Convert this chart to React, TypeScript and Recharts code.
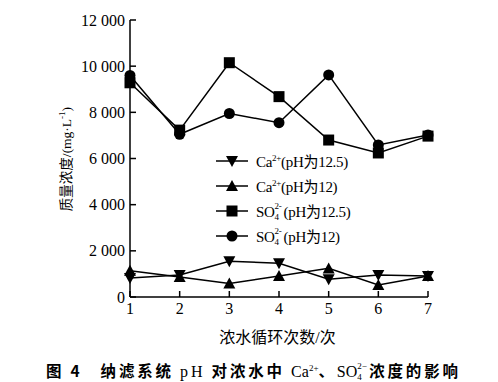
import React from 'react';
import { LineChart, Line, XAxis, YAxis } from 'recharts';

const cycles = [1, 2, 3, 4, 5, 6, 7];
const caPH125 = [820, 950, 1550, 1460, 770, 950, 910];
const caPH12 = [1140, 870, 590, 910, 1240, 520, 910];
const so4PH125 = [9280, 7230, 10150, 8680, 6800, 6240, 6970];
const so4PH12 = [9600, 7050, 7950, 7550, 9620, 6590, 7020];
const yTicks = [0, 2000, 4000, 6000, 8000, 10000, 12000];
const yTickLabels = ['0', '2 000', '4 000', '6 000', '8 000', '10 000', '12 000'];

const data = cycles.map((c, i) => ({
  cycle: c,
  caPH125: caPH125[i],
  caPH12: caPH12[i],
  so4PH125: so4PH125[i],
  so4PH12: so4PH12[i],
}));

const SERIF = '"Liberation Serif", "Times New Roman", "Noto Sans CJK SC", serif';
const CJK = '"Liberation Serif", "Noto Sans CJK SC", serif';

type Shape = 'down' | 'up' | 'square' | 'circle';

const Marker = ({ cx, cy, shape }: { cx: number; cy: number; shape: Shape }) => {
  if (cx == null || cy == null) return null;
  if (shape === 'circle') return <circle cx={cx} cy={cy} r={5.5} fill="#000" />;
  if (shape === 'square') return <rect x={cx - 5.5} y={cy - 5.5} width={11} height={11} fill="#000" />;
  if (shape === 'down')
    return <polygon points={`${cx - 6},${cy - 5} ${cx + 6},${cy - 5} ${cx},${cy + 6}`} fill="#000" />;
  return <polygon points={`${cx - 6},${cy + 5} ${cx + 6},${cy + 5} ${cx},${cy - 6}`} fill="#000" />;
};

const makeDot = (shape: Shape) => (props: any) => (
  <Marker key={`${shape}-${props.index}`} cx={props.cx} cy={props.cy} shape={shape} />
);

const XTick = (props: any) => {
  const { x, y, payload } = props;
  return (
    <g>
      <line x1={x} x2={x} y1={y} y2={y - 6} stroke="#000" strokeWidth={1.5} />
      <text x={x} y={y + 17} textAnchor="middle" fontFamily={SERIF} fontSize={16} fill="#000">
        {payload.value}
      </text>
    </g>
  );
};

const YTick = (props: any) => {
  const { x, y, payload } = props;
  const idx = yTicks.indexOf(payload.value);
  return (
    <g>
      <line x1={x} x2={x + 6} y1={y} y2={y} stroke="#000" strokeWidth={1.5} />
      <text x={x - 5} y={y + 5.5} textAnchor="end" fontFamily={SERIF} fontSize={16} fill="#000">
        {yTickLabels[idx]}
      </text>
    </g>
  );
};

const LegendIcon = ({ shape }: { shape: Shape }) => (
  <svg width={32} height={14} style={{ display: 'block' }}>
    <line x1={0} x2={32} y1={7} y2={7} stroke="#000" strokeWidth={1.5} />
    <Marker cx={16} cy={7} shape={shape} />
  </svg>
);

const small: React.CSSProperties = { fontSize: 9, position: 'relative', lineHeight: 0 };

const SO4 = () => (
  <span>
    SO
    <span style={{ display: 'inline-block', position: 'relative', width: 9, height: 10 }}>
      <span style={{ position: 'absolute', left: 0, top: -5, fontSize: 9, lineHeight: '9px' }}>2-</span>
      <span style={{ position: 'absolute', left: 0, top: 6, fontSize: 9, lineHeight: '9px' }}>4</span>
    </span>
  </span>
);

const Ca = () => (
  <span>
    Ca<span style={{ ...small, top: -6 }}>2+</span>
  </span>
);

const legendRows: { shape: Shape; label: React.ReactNode }[] = [
  { shape: 'down', label: <><Ca />(pH为12.5)</> },
  { shape: 'up', label: <><Ca />(pH为12)</> },
  { shape: 'square', label: <><SO4 />(pH为12.5)</> },
  { shape: 'circle', label: <><SO4 />(pH为12)</> },
];

export default function App() {
  return (
    <div style={{ position: 'absolute', left: 0, top: 0, width: 498, height: 382, background: '#fff' }}>
      <LineChart
        width={498}
        height={382}
        data={data}
        margin={{ top: 20, right: 70, bottom: 55, left: 70 }}
      >
        <XAxis
          dataKey="cycle"
          type="number"
          domain={[1, 7]}
          ticks={cycles}
          tickSize={0}
          tickMargin={0}
          tickLine={false}
          height={30}
          axisLine={{ stroke: '#000', strokeWidth: 1.5 }}
          tick={<XTick />}
        />
        <YAxis
          type="number"
          domain={[0, 12000]}
          ticks={yTicks}
          tickSize={0}
          tickMargin={0}
          tickLine={false}
          width={60}
          axisLine={{ stroke: '#000', strokeWidth: 1.5 }}
          tick={<YTick />}
        />
        <Line dataKey="caPH125" stroke="#000" strokeWidth={1.5} dot={makeDot('down')} isAnimationActive={false} />
        <Line dataKey="caPH12" stroke="#000" strokeWidth={1.5} dot={makeDot('up')} isAnimationActive={false} />
        <Line dataKey="so4PH125" stroke="#000" strokeWidth={1.5} dot={makeDot('square')} isAnimationActive={false} />
        <Line dataKey="so4PH12" stroke="#000" strokeWidth={1.5} dot={makeDot('circle')} isAnimationActive={false} />
      </LineChart>
      <div
        style={{
          position: 'absolute',
          left: 216,
          top: 148,
          fontFamily: CJK,
          fontSize: 15,
          color: '#000',
        }}
      >
        {legendRows.map((r, i) => (
          <div key={i} style={{ display: 'flex', alignItems: 'center', height: 25 }}>
            <LegendIcon shape={r.shape} />
            <span style={{ marginLeft: 8, whiteSpace: 'nowrap', letterSpacing: -0.3 }}>{r.label}</span>
          </div>
        ))}
      </div>
      <div
        style={{
          position: 'absolute',
          left: 65,
          top: 159,
          transform: 'translate(-50%, -50%) rotate(-90deg)',
          whiteSpace: 'nowrap',
          fontFamily: CJK,
          fontSize: 13.5,
          color: '#000',
        }}
      >
        质量浓度/(mg·L<span style={{ ...small, top: -6 }}>-1</span>)
      </div>
      <div
        style={{
          position: 'absolute',
          left: 0,
          width: 555,
          top: 324,
          textAlign: 'center',
          fontFamily: CJK,
          fontSize: 16,
          color: '#000',
          whiteSpace: 'nowrap',
        }}
      >
        浓水循环次数/次
      </div>
      <div
        style={{
          position: 'absolute',
          left: 46,
          top: 359,
          fontFamily: '"Noto Sans CJK SC", sans-serif',
          fontWeight: 700,
          fontSize: 15.5,
          color: '#000',
          whiteSpace: 'nowrap',
          letterSpacing: 2.8,
        }}
      >
        图 4<span style={{ display: 'inline-block', width: 18 }} />纳滤系统 <span style={{ fontFamily: SERIF, fontWeight: 400, fontSize: 16 }}>pH</span> 对浓水中 <span style={{ fontFamily: SERIF, fontWeight: 400, fontSize: 16, letterSpacing: 0 }}>Ca<span style={{ ...small, top: -6 }}>2+</span></span>、<span style={{ fontFamily: SERIF, fontWeight: 400, fontSize: 16, letterSpacing: 0 }}>SO<span style={{ display: 'inline-block', position: 'relative', width: 12, height: 10 }}><span style={{ position: 'absolute', left: 0, top: -5, fontSize: 9, lineHeight: '9px' }}>2−</span><span style={{ position: 'absolute', left: 0, top: 6, fontSize: 9, lineHeight: '9px' }}>4</span></span></span>浓度的影响
      </div>
    </div>
  );
}
